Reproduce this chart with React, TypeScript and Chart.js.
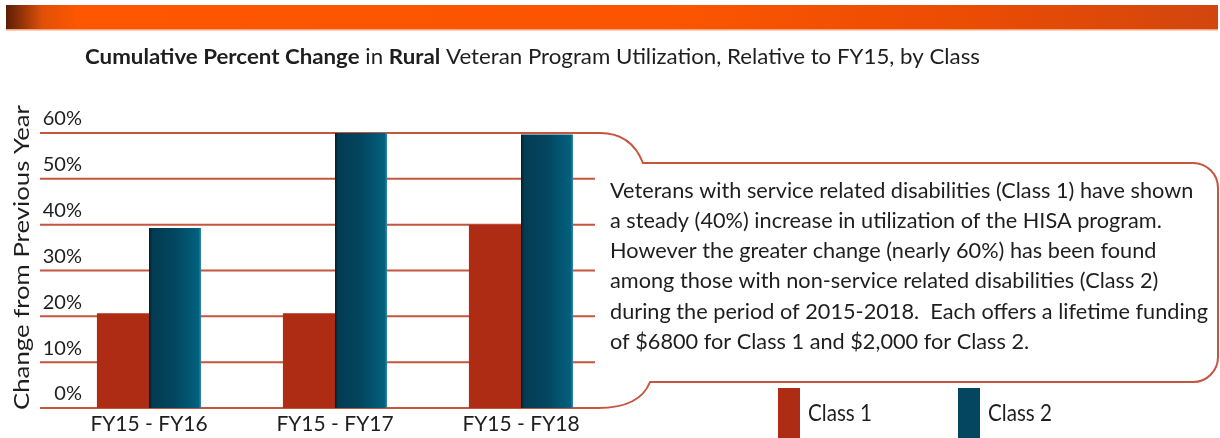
import React, { useEffect, useRef } from "react";
import { Chart, registerables } from "chart.js";

Chart.register(...registerables);

const categories = ["FY15 - FY16", "FY15 - FY17", "FY15 - FY18"];
const seriesLabels = ["Class 1", "Class 2"];
const class1 = [20.7, 20.7, 40];
const class2 = [39.3, 60, 59.7];
const yTicks = [0, 10, 20, 30, 40, 50, 60];
const yTitle = "Change from Previous Year";
const titleParts: [string, boolean][] = [
  ["Cumulative Percent Change", true],
  [" in ", false],
  ["Rural", true],
  [" Veteran Program Utilization, Relative to FY15, by Class", false],
];
const noteLines = [
  "Veterans with service related disabilities (Class 1) have shown",
  "a steady (40%) increase in utilization of the HISA program.",
  "However the greater change (nearly 60%) has been found",
  "among those with non-service related disabilities (Class 2)",
  "during the period of 2015-2018.  Each offers a lifetime funding",
  "of $6800 for Class 1 and $2,000 for Class 2.",
];

const FONT = "Lato, 'Open Sans', sans-serif";
const RED = "#ae2b14";
const BLUE = "#04455f";
const LINE = "#c4563f";
const TEXT = "#1e1e1e";
const CAT_PCT = 0.56;

function blueFill(ctx: any) {
  const chart = ctx.chart;
  const xs = chart.scales && chart.scales.x;
  if (!xs || ctx.dataIndex === undefined || !chart.chartArea) return BLUE;
  const c = xs.getPixelForValue(ctx.dataIndex);
  const w = (xs.width / categories.length) * CAT_PCT / 2;
  const g = chart.ctx.createLinearGradient(c, 0, c + w, 0);
  g.addColorStop(0, "#061c26");
  g.addColorStop(0.06, "#033c53");
  g.addColorStop(0.5, "#03465f");
  g.addColorStop(0.95, "#02617f");
  g.addColorStop(1, "#3a8aa8");
  return g;
}

function drawScaled(ctx: any, text: string, x: number, y: number, sx: number) {
  ctx.save();
  ctx.translate(x, y);
  ctx.scale(sx, 1);
  ctx.fillText(text, 0, 0);
  ctx.restore();
}

const decorPlugin = {
  id: "decor",
  beforeDatasetsDraw(chart: any) {
    const ctx = chart.ctx;
    const ys = chart.scales.y;
    ctx.save();
    // banner
    const bg = ctx.createLinearGradient(6, 0, 1218, 0);
    bg.addColorStop(0, "#5a1e06");
    bg.addColorStop(0.03, "#e05008");
    bg.addColorStop(0.06, "#ff5700");
    bg.addColorStop(0.55, "#fb5500");
    bg.addColorStop(0.8, "#ea4c04");
    bg.addColorStop(1, "#d2460e");
    ctx.fillStyle = bg;
    ctx.fillRect(6, 5, 1212, 24);
    ctx.fillStyle = "#f8a47a";
    ctx.fillRect(6, 29, 1212, 1.5);

    ctx.textBaseline = "middle";
    ctx.textAlign = "left";
    ctx.fillStyle = TEXT;

    // title, fitted to its width in the reference
    let total = 0;
    for (const [s, b] of titleParts) {
      ctx.font = `${b ? "bold " : ""}21px ${FONT}`;
      total += ctx.measureText(s).width;
    }
    const tsx = 895 / total;
    let tx = 85;
    for (const [s, b] of titleParts) {
      ctx.font = `${b ? "bold " : ""}21px ${FONT}`;
      drawScaled(ctx, s, tx, 57, tsx);
      tx += ctx.measureText(s).width * tsx;
    }

    // y title
    ctx.save();
    ctx.translate(22, 258);
    ctx.rotate(-Math.PI / 2);
    ctx.font = `22px ${FONT}`;
    const yw = ctx.measureText(yTitle).width;
    drawScaled(ctx, yTitle, -152, 0, 305 / yw);
    ctx.restore();

    // y tick labels
    ctx.font = `20px ${FONT}`;
    ctx.textAlign = "right";
    for (const v of yTicks) {
      ctx.fillText(`${v}%`, 82, ys.getPixelForValue(v) - 14);
    }
    ctx.textAlign = "left";

    // gridlines
    ctx.strokeStyle = LINE;
    ctx.lineWidth = 2;
    for (const v of yTicks) {
      if (v === 0 || v === 60) continue;
      const y = ys.getPixelForValue(v);
      ctx.beginPath();
      ctx.moveTo(40, y);
      ctx.lineTo(595, y);
      ctx.stroke();
    }
    // callout outline joined to the 60% and 0% lines
    const yT = ys.getPixelForValue(60);
    const yB = ys.getPixelForValue(0);
    ctx.beginPath();
    ctx.moveTo(40, yT);
    ctx.lineTo(600, yT);
    ctx.bezierCurveTo(622, yT, 636, yT + 12, 643, 163);
    ctx.lineTo(1193, 163);
    ctx.arcTo(1218, 163, 1218, 188, 25);
    ctx.lineTo(1218, 357);
    ctx.arcTo(1218, 382, 1193, 382, 25);
    ctx.lineTo(650, 382);
    ctx.bezierCurveTo(643, 400, 625, yB, 598, yB);
    ctx.lineTo(40, yB);
    ctx.stroke();

    // note text
    ctx.fillStyle = TEXT;
    ctx.font = `21px ${FONT}`;
    const nsx = 598 / ctx.measureText(noteLines[4]).width;
    noteLines.forEach((l, i) => drawScaled(ctx, l, 610, 191 + i * 30.2, nsx));

    // legend
    const cols = [RED, BLUE];
    const lx = [778, 958];
    ctx.font = `23px ${FONT}`;
    const lsx = 64 / ctx.measureText(seriesLabels[0]).width;
    seriesLabels.forEach((lab, i) => {
      ctx.fillStyle = cols[i];
      ctx.fillRect(lx[i], 388, 22, 50);
      ctx.fillStyle = TEXT;
      drawScaled(ctx, lab, lx[i] + 30, 414, lsx);
    });
    ctx.restore();
  },
};

export default function App() {
  const ref = useRef<HTMLCanvasElement>(null);
  useEffect(() => {
    if (!ref.current) return;
    const chart = new Chart(ref.current, {
      type: "bar",
      data: {
        labels: categories,
        datasets: [
          { label: seriesLabels[0], data: class1, backgroundColor: RED },
          { label: seriesLabels[1], data: class2, backgroundColor: blueFill as any },
        ],
      },
      options: {
        responsive: false,
        animation: false,
        events: [],
        layout: { padding: { left: 56, right: 606, top: 133, bottom: 0 } },
        datasets: { bar: { categoryPercentage: CAT_PCT, barPercentage: 1 } },
        plugins: { legend: { display: false }, title: { display: false }, tooltip: { enabled: false } },
        scales: {
          x: {
            grid: { display: false, drawTicks: false },
            border: { display: false },
            ticks: { color: TEXT, font: { family: FONT, size: 21 }, padding: 4 },
            afterFit: (s: any) => { s.height = 30; },
          },
          y: { display: false, min: 0, max: 60 },
        },
      },
      plugins: [decorPlugin],
    });
    return () => chart.destroy();
  }, []);
  return (
    <div style={{ position: "fixed", left: 0, top: 0, width: 1220, height: 438, background: "#fff" }}>
      <canvas ref={ref} width={1220} height={438} style={{ display: "block" }} />
    </div>
  );
}
